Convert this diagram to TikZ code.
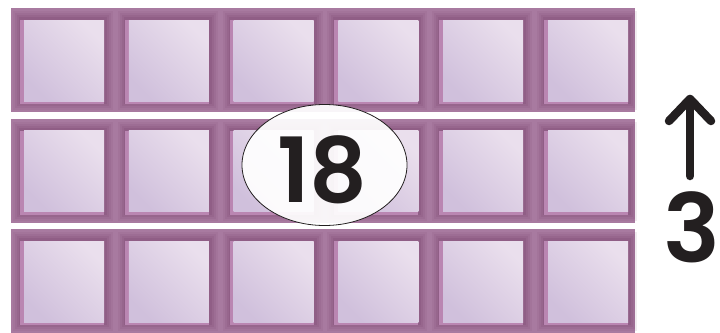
\documentclass[tikz,border=0pt]{standalone}
\usepackage{fontspec}
\newfontfamily\numfont{Poppins SemiBold}
\usetikzlibrary{shapes.geometric}
\definecolor{strip}{RGB}{168,122,160}
\definecolor{shadowc}{RGB}{120,66,110}
\definecolor{faceA}{RGB}{234,223,237}
\definecolor{faceB}{RGB}{208,192,220}
\definecolor{rimL}{RGB}{186,134,178}
\definecolor{ink}{RGB}{35,31,32}
\tikzset{
  numtext/.style={text=ink, inner sep=0pt, anchor=base},
  ovalshape/.style={ellipse, draw=ink, line width=0.8pt, fill=white, fill opacity=0.93, inner sep=0pt, minimum width=165pt, minimum height=121pt},
  arrowline/.style={draw=ink, line width=8.5pt, line cap=round, line join=round}
}
\begin{document}
\begin{tikzpicture}[x=1pt,y=-1pt]
\useasboundingbox (0,0) rectangle (720,332);
\foreach \t in {8,118.5,229}{
  \fill[strip] (11,\t) rectangle (635,\t+104);
  \foreach \c in {0,...,5}{
    \pgfmathsetmacro\xx{20+104.8*\c}
    \pgfmathsetmacro\yy{\t+12}
    \foreach \e/\o in {9/0.10,7/0.13,5/0.16,3/0.22}{
      \fill[shadowc,opacity=\o] (\xx-\e+2,\yy-\e) rectangle (\xx+84+\e,\yy+84+\e-3);
    }
    \fill[rimL] (\xx,\yy) rectangle (\xx+84,\yy+84);
    \shade[top color=faceA, bottom color=faceB, shading angle=-45] (\xx+4,\yy) rectangle (\xx+84,\yy+81);
  }
}
\node[ovalshape] (oval) at (324.5,165) {};
\node[numtext, font=\numfont\fontsize{90}{90}\selectfont] (num) at (322.5,202) {18};
\coordinate (atop) at (690,99);
\coordinate (abot) at (690,176);
\coordinate (wl) at (669,121);
\coordinate (wr) at (711,121);
\draw[arrowline] (atop) -- (abot);
\draw[arrowline] (wl) -- (atop) -- (wr);
\node[numtext, font=\numfont\fontsize{95}{95}\selectfont] (three) at (691.5,262) {3};
\end{tikzpicture}
\end{document}
